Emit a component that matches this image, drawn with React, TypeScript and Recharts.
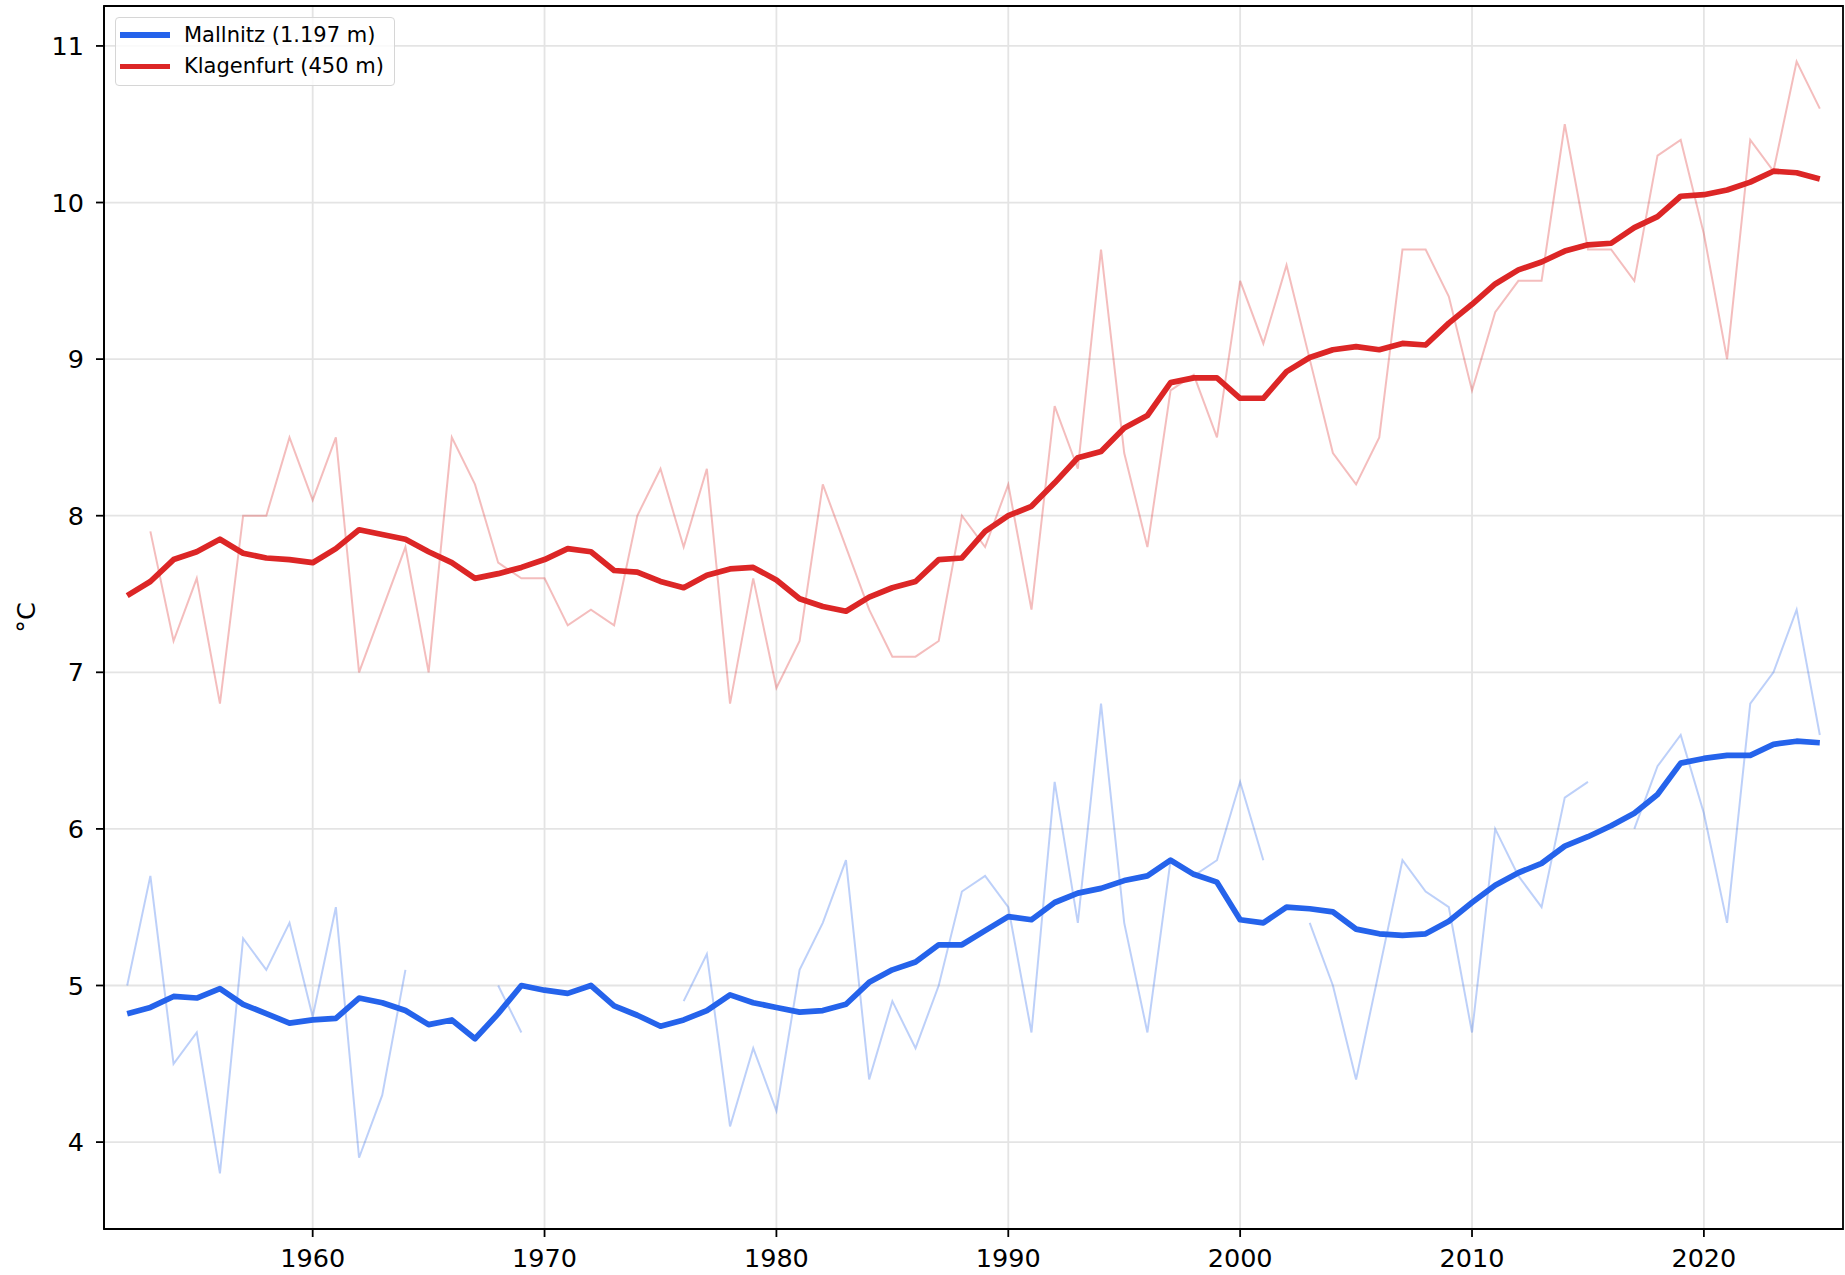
import React from "react";
import {
  LineChart,
  Line,
  XAxis,
  YAxis,
  CartesianGrid,
  Legend,
  ReferenceArea,
} from "recharts";

// years 1952..2025
const years = Array.from({ length: 74 }, (_, i) => 1952 + i);

// annual means, Mallnitz (null = missing year)
const mallnitzAnnual = [
  5.0, 5.7, 4.5, 4.7, 3.8, 5.3, 5.1, 5.4,
  4.8, 5.5, 3.9, 4.3, 5.1, null, null, null, 5.0, 4.7,
  null, null, null, null, null, null, 4.9, 5.2, 4.1, 4.6,
  4.2, 5.1, 5.4, 5.8, 4.4, 4.9, 4.6, 5.0, 5.6, 5.7,
  5.5, 4.7, 6.3, 5.4, 6.8, 5.4, 4.7, 5.8, 5.7, 5.8,
  6.3, 5.8, null, 5.4, 5.0, 4.4, 5.1, 5.8, 5.6, 5.5,
  4.7, 6.0, 5.7, 5.5, 6.2, 6.3, null, 6.0, 6.4, 6.6,
  6.1, 5.4, 6.8, 7.0, 7.4, 6.6,
];

// smoothed, Mallnitz
const mallnitzSmooth = [
  4.82, 4.86, 4.93, 4.92, 4.98, 4.88, 4.82, 4.76,
  4.78, 4.79, 4.92, 4.89, 4.84, 4.75, 4.78, 4.66, 4.82, 5.0,
  4.97, 4.95, 5.0, 4.87, 4.81, 4.74, 4.78, 4.84, 4.94, 4.89,
  4.86, 4.83, 4.84, 4.88, 5.02, 5.1, 5.15, 5.26, 5.26, 5.35,
  5.44, 5.42, 5.53, 5.59, 5.62, 5.67, 5.7, 5.8, 5.71, 5.66,
  5.42, 5.4, 5.5, 5.49, 5.47, 5.36, 5.33, 5.32, 5.33, 5.41,
  5.53, 5.64, 5.72, 5.78, 5.89, 5.95, 6.02, 6.1, 6.22, 6.42,
  6.45, 6.47, 6.47, 6.54, 6.56, 6.55,
];

// annual means, Klagenfurt
const klagenfurtAnnual = [
  null, 7.9, 7.2, 7.6, 6.8, 8.0, 8.0, 8.5,
  8.1, 8.5, 7.0, 7.4, 7.8, 7.0, 8.5, 8.2, 7.7, 7.6,
  7.6, 7.3, 7.4, 7.3, 8.0, 8.3, 7.8, 8.3, 6.8, 7.6,
  6.9, 7.2, 8.2, 7.8, 7.4, 7.1, 7.1, 7.2, 8.0, 7.8,
  8.2, 7.4, 8.7, 8.3, 9.7, 8.4, 7.8, 8.8, 8.9, 8.5,
  9.5, 9.1, 9.6, 9.0, 8.4, 8.2, 8.5, 9.7, 9.7, 9.4,
  8.8, 9.3, 9.5, 9.5, 10.5, 9.7, 9.7, 9.5, 10.3, 10.4,
  9.8, 9.0, 10.4, 10.2, 10.9, 10.6,
];

// smoothed, Klagenfurt
const klagenfurtSmooth = [
  7.49, 7.58, 7.72, 7.77, 7.85, 7.76, 7.73, 7.72,
  7.7, 7.79, 7.91, 7.88, 7.85, 7.77, 7.7, 7.6, 7.63, 7.67,
  7.72, 7.79, 7.77, 7.65, 7.64, 7.58, 7.54, 7.62, 7.66, 7.67,
  7.59, 7.47, 7.42, 7.39, 7.48, 7.54, 7.58, 7.72, 7.73, 7.9,
  8.0, 8.06, 8.21, 8.37, 8.41, 8.56, 8.64, 8.85, 8.88, 8.88,
  8.75, 8.75, 8.92, 9.01, 9.06, 9.08, 9.06, 9.1, 9.09, 9.23,
  9.35, 9.48, 9.57, 9.62, 9.69, 9.73, 9.74, 9.84, 9.91, 10.04,
  10.05, 10.08, 10.13, 10.2, 10.19, 10.15,
];

const xTicks = [1960, 1970, 1980, 1990, 2000, 2010, 2020];
const yTicks = [4, 5, 6, 7, 8, 9, 10, 11];

const BLUE = "#2563eb";
const RED = "#dc2626";
const FONT = "DejaVu Sans, sans-serif";

const legendItems = [
  { label: "Mallnitz (1.197 m)", color: BLUE },
  { label: "Klagenfurt (450 m)", color: RED },
];

const data = years.map((year, i) => ({
  year,
  mallnitz: mallnitzAnnual[i],
  mallnitzSmooth: mallnitzSmooth[i],
  klagenfurt: klagenfurtAnnual[i],
  klagenfurtSmooth: klagenfurtSmooth[i],
}));

function LegendBox() {
  return (
    <div
      style={{
        boxSizing: "border-box",
        width: 280,
        height: 69,
        border: "1.5px solid #d6d6d6",
        borderRadius: 4,
        background: "rgba(255,255,255,0.8)",
        padding: "1px 0 0 4px",
        fontFamily: FONT,
        fontSize: 21,
        color: "#000",
      }}
    >
      {legendItems.map((it) => (
        <div
          key={it.label}
          style={{ display: "flex", alignItems: "center", height: 31.5 }}
        >
          <span
            style={{
              display: "inline-block",
              width: 50,
              height: 5.5,
              background: it.color,
              marginRight: 14,
            }}
          />
          <span>{it.label}</span>
        </div>
      ))}
    </div>
  );
}

const yLabel = ({ viewBox }: any) => {
  const x = viewBox.x + 2;
  const y = viewBox.y + viewBox.height / 2;
  return (
    <text
      x={x}
      y={y}
      transform={`rotate(-90 ${x} ${y})`}
      textAnchor="middle"
      dominantBaseline="central"
      fontFamily={FONT}
      fontSize={25.5}
      fill="#000"
    >
      °C
    </text>
  );
};

export default function App() {
  const tickStyle = { fontSize: 25.5, fill: "#000", fontFamily: FONT };
  return (
    <div style={{ width: 1845, height: 1275, background: "#fff" }}>
      <style>{`body{margin:0}`}</style>
      <LineChart
        width={1845}
        height={1275}
        data={data}
        margin={{ top: 6, right: 2, bottom: 0, left: 24 }}
      >
        <CartesianGrid stroke="#e4e4e4" strokeWidth={1.8} />
        <XAxis
          dataKey="year"
          type="number"
          domain={[1951, 2026]}
          ticks={xTicks}
          allowDataOverflow
          height={46}
          tickSize={8}
          tickMargin={12}
          tick={tickStyle}
          axisLine={{ stroke: "#000", strokeWidth: 1.8 }}
          tickLine={{ stroke: "#000", strokeWidth: 1.8 }}
        />
        <YAxis
          type="number"
          domain={[3.445, 11.255]}
          ticks={yTicks}
          allowDataOverflow
          width={80}
          tickSize={8}
          tickMargin={12}
          tick={tickStyle}
          axisLine={{ stroke: "#000", strokeWidth: 1.8 }}
          tickLine={{ stroke: "#000", strokeWidth: 1.8 }}
          label={{ content: yLabel }}
        />
        <ReferenceArea
          x1={1951}
          x2={2026}
          y1={3.445}
          y2={11.255}
          fill="none"
          stroke="#000"
          strokeWidth={1.8}
        />
        <Line
          dataKey="mallnitz"
          stroke={BLUE}
          strokeOpacity={0.3}
          strokeWidth={2}
          dot={false}
          legendType="none"
          isAnimationActive={false}
        />
        <Line
          dataKey="klagenfurt"
          stroke={RED}
          strokeOpacity={0.3}
          strokeWidth={2}
          dot={false}
          legendType="none"
          isAnimationActive={false}
        />
        <Line
          dataKey="mallnitzSmooth"
          stroke={BLUE}
          strokeWidth={5.7}
          dot={false}
          strokeLinejoin="round"
          isAnimationActive={false}
        />
        <Line
          dataKey="klagenfurtSmooth"
          stroke={RED}
          strokeWidth={5.7}
          dot={false}
          strokeLinejoin="round"
          isAnimationActive={false}
        />
        <Legend
          layout="vertical"
          align="center"
          verticalAlign="middle"
          content={() => <LegendBox />}
          wrapperStyle={{ left: 115, top: 17, width: 280, height: 69 }}
        />
      </LineChart>
    </div>
  );
}
